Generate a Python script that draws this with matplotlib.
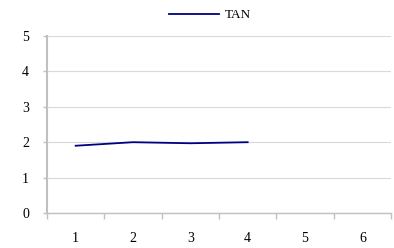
import matplotlib
matplotlib.use("Agg")
import matplotlib.pyplot as plt
import numpy as np

categories = [1, 2, 3, 4, 5, 6]
series_x = [1, 2, 3, 4]
tan_values = [1.9, 2.0, 1.97, 2.0]
y_ticks = [0, 1, 2, 3, 4, 5]

plt.rcParams['font.family'] = ['Liberation Serif', 'DejaVu Serif']

fig = plt.figure(figsize=(3.94, 2.48), dpi=100)
ax = fig.add_axes([47/394, 1 - 213/248, (391-47)/394, (213-36)/248])

ax.plot(series_x, tan_values, color='#000080', lw=1.3, label='TAN')

ax.set_xlim(0.5, 6.5)
ax.set_ylim(0, 5)
ax.set_yticks(y_ticks)
ax.set_xticks(categories)
ax.set_xticks(np.arange(0.5, 7, 1), minor=True)
ax.tick_params(axis='x', which='major', length=0, pad=14, labelsize=10)
ax.tick_params(axis='x', which='minor', length=4, color='#c0c0c0', width=1)
ax.tick_params(axis='y', length=3, color='#c0c0c0', width=1, labelsize=10, pad=10)
ax.grid(axis='y', color='#d9d9d9', lw=0.8)
ax.set_axisbelow(True)
for s in ['top', 'right']:
    ax.spines[s].set_visible(False)
ax.spines['left'].set_color('#c0c0c0')
ax.spines['left'].set_linewidth(1.5)
ax.spines['bottom'].set_color('#c0c0c0')
ax.spines['bottom'].set_linewidth(1.0)

leg = fig.legend(loc='center', bbox_to_anchor=(210/394, 1 - 15/248), frameon=False,
                 fontsize=9.5, handlelength=3.8, handletextpad=0.4)

fig.savefig('out.png', dpi=100)
